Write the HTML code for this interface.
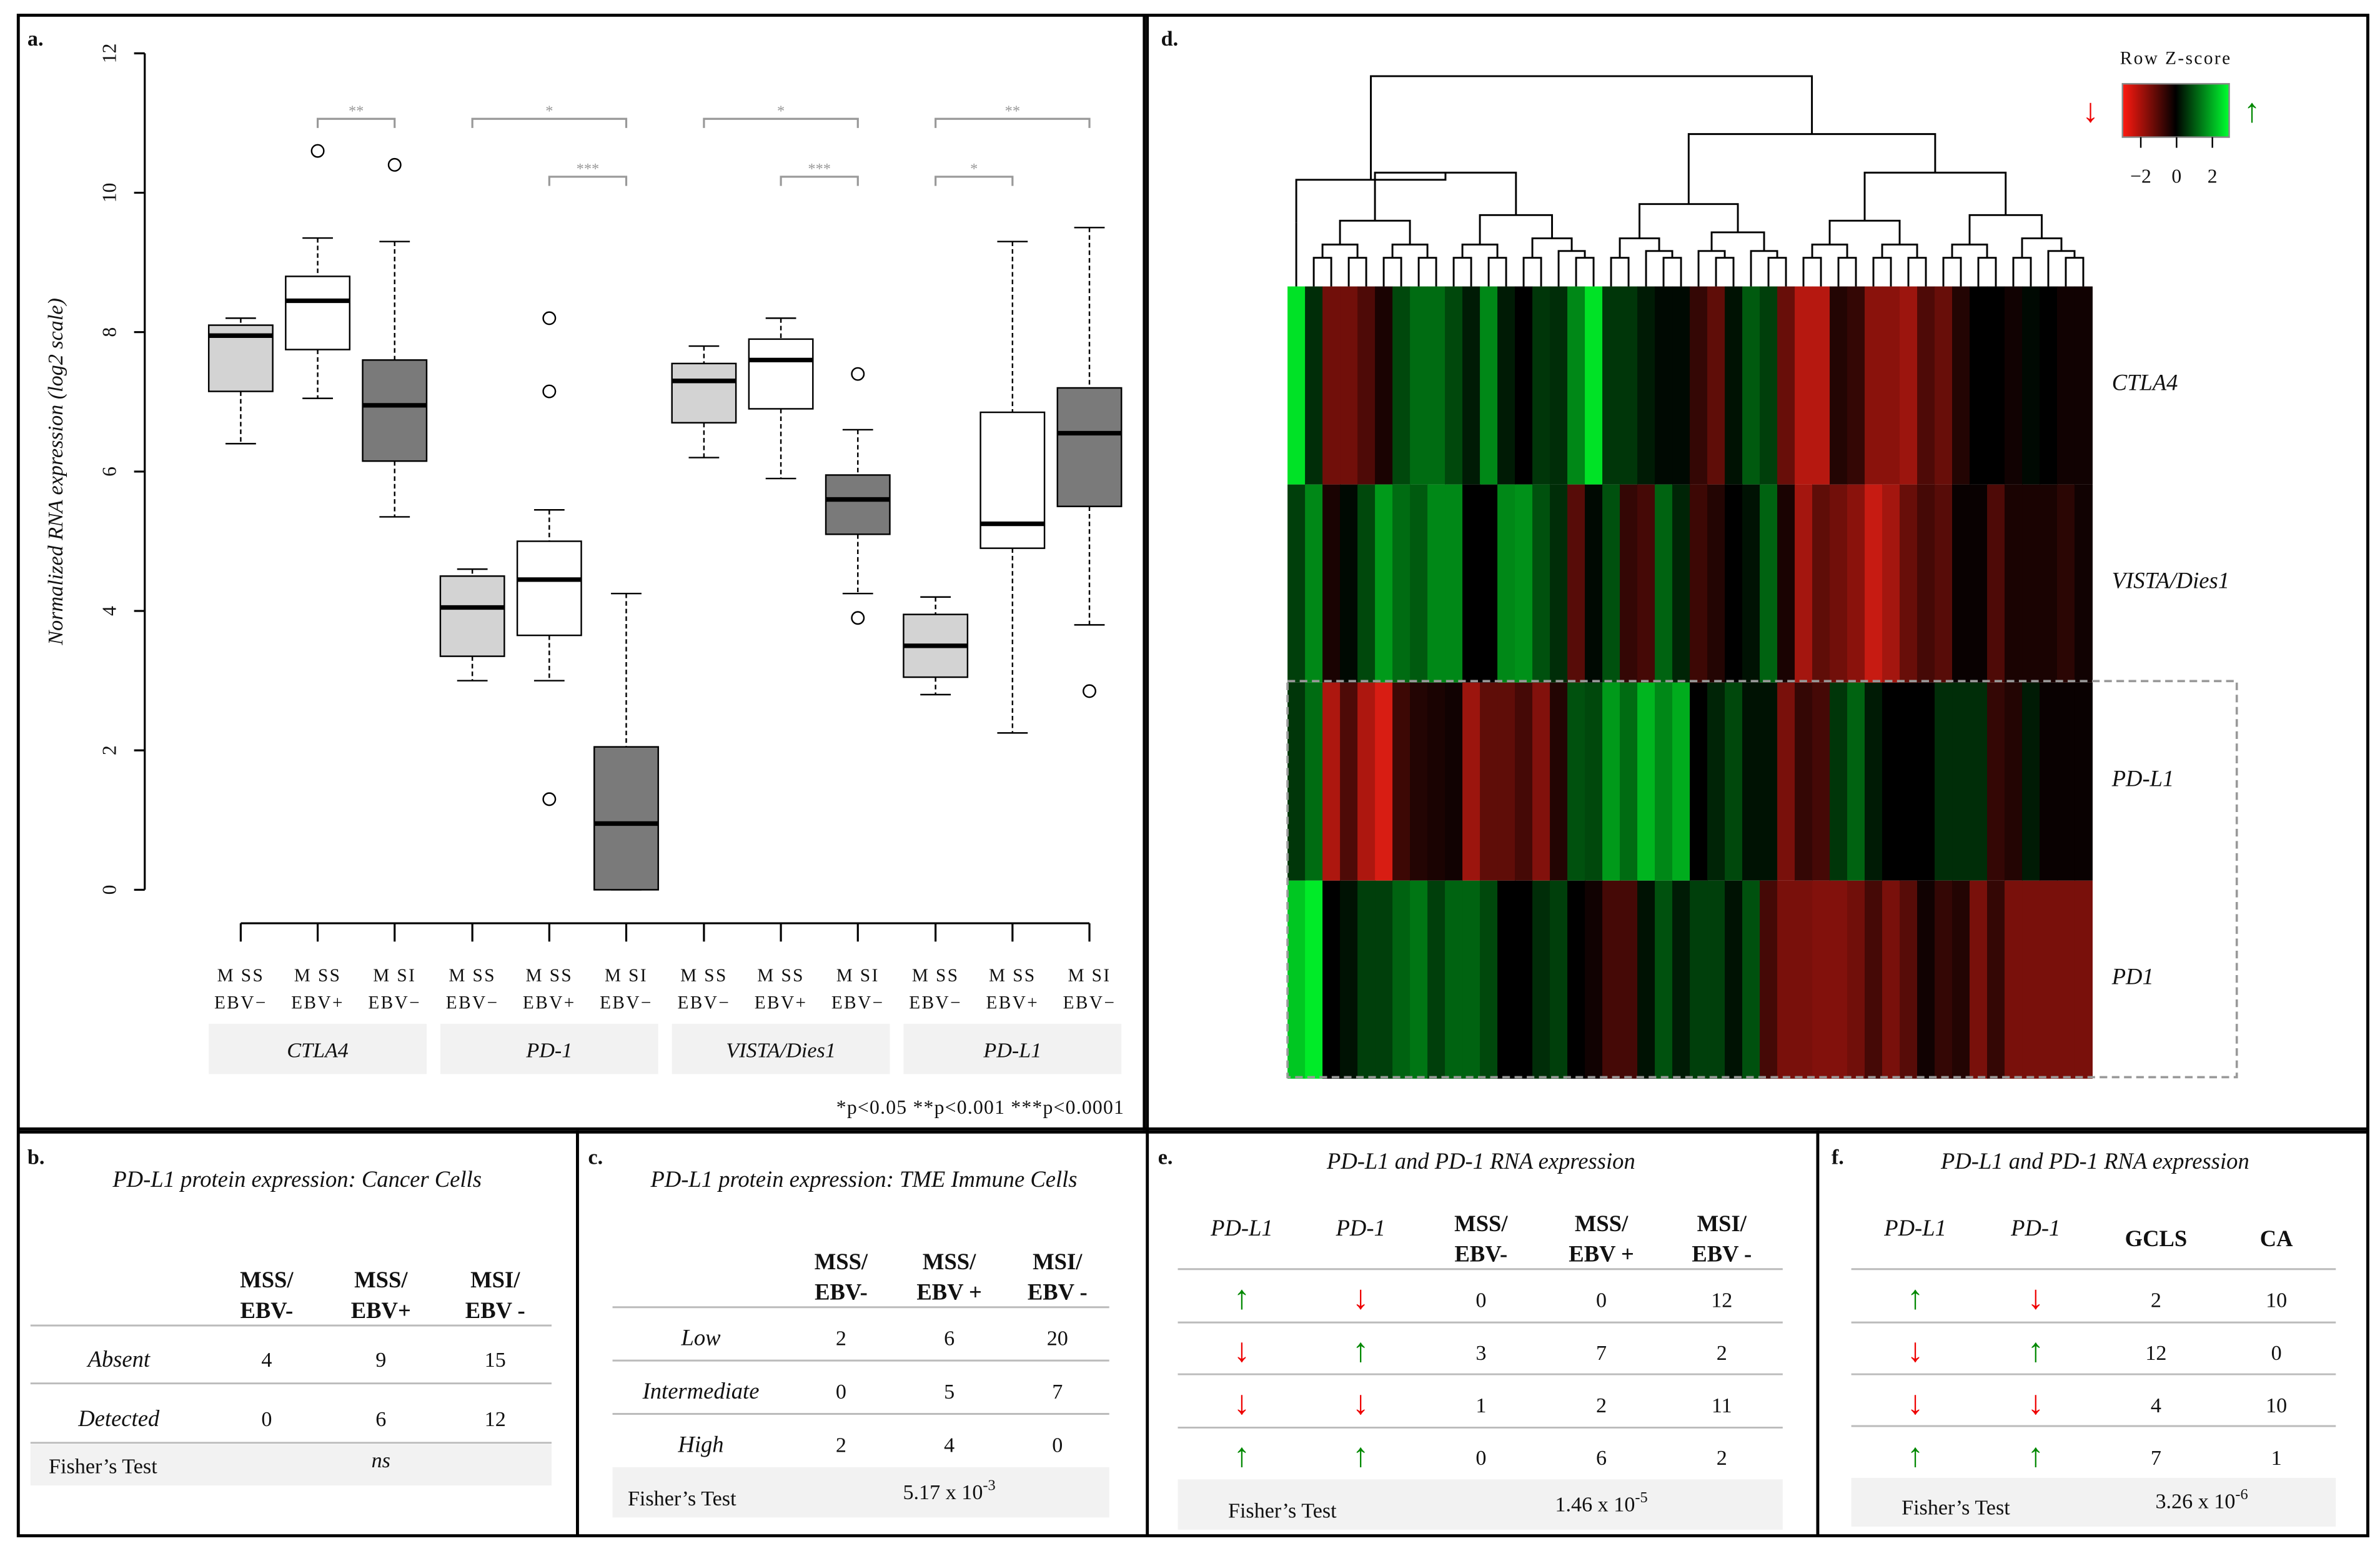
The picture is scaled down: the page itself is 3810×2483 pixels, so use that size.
<!DOCTYPE html>
<html><head><meta charset="utf-8">
<style>
html,body{margin:0;padding:0;background:#fff}
svg{display:block}
text{font-family:"Liberation Serif",serif;fill:#111}
.it{font-style:italic}
.b{font-weight:bold}
</style></head>
<body>
<svg id="root" width="3810" height="2483" viewBox="0 0 1562 1018" preserveAspectRatio="none" xmlns="http://www.w3.org/2000/svg">
<rect x="0" y="0" width="1562" height="1018" fill="#fff"/>
<g fill="none" stroke="#000" stroke-width="2">
<rect x="12" y="10" width="1542" height="998"/>
<line x1="751" y1="10" x2="751" y2="742"/>
<line x1="12" y1="741" x2="1554" y2="741"/>
<line x1="12" y1="743" x2="1554" y2="743"/>
<line x1="379" y1="742" x2="379" y2="1008"/>
<line x1="753" y1="10" x2="753" y2="1008"/>
<line x1="1193" y1="742" x2="1193" y2="1008"/>
</g>
<text x="18" y="30" class="b" font-size="14">a.</text>
<text x="762" y="30" class="b" font-size="14">d.</text>
<g id="boxplot"></g>
<g id="heat"></g>
<g id="tables"></g>
</svg>
<script>
const NS="http://www.w3.org/2000/svg";
// ---- boxplot data ----
const groups=["CTLA4","PD-1","VISTA/Dies1","PD-L1"];
const subLabels=[["M SS","EBV−"],["M SS","EBV+"],["M SI","EBV−"]];
const mins=[6.4,7.05,5.35, 3.0,3.0,0, 6.2,5.9,4.25, 2.8,2.25,3.8];
const q1s=[7.15,7.75,6.15, 3.35,3.65,0, 6.7,6.9,5.1, 3.05,4.9,5.5];
const meds=[7.95,8.45,6.95, 4.05,4.45,0.95, 7.3,7.6,5.6, 3.5,5.25,6.55];
const q3s=[8.1,8.8,7.6, 4.5,5.0,2.05, 7.55,7.9,5.95, 3.95,6.85,7.2];
const maxs=[8.2,9.35,9.3, 4.6,5.45,4.25, 7.8,8.2,6.6, 4.2,9.3,9.5];
const outliers=[[],[10.6],[10.4],[],[8.2,7.15,1.3],[],[],[],[7.4,3.9],[],[],[2.85]];
const yTicks=[0,2,4,6,8,10,12];
const sigLabels=[["**",1,2,0],["*",3,5,0],["***",4,5,1],["*",6,8,0],["***",7,8,1],["**",9,11,0],["*",9,10,1]];
const heatRows=["CTLA4","VISTA/Dies1","PD-L1","PD1"];
const zCTLA4=[2.5,0.5,-1.3,-1.3,-0.9,-0.3,0.8,1.2,1.2,0.8,0.3,1.5,0.3,0,0.6,0.5,1.5,2.5,0.6,0.6,0.3,0.1,0.1,-0.6,-1.1,0.2,1,0.7,-1.2,-2.1,-2.1,-0.4,-0.6,-1.6,-1.6,-1.8,-0.9,-1.2,-0.4,0,0,-0.2,0.1,0,-0.2,-0.2];
const zVISTA=[0.7,1.5,-0.3,0.1,0.8,1.7,1.2,1,1.5,1.5,0,0,1.5,1.6,0.9,0.5,-1,0.1,0.9,-0.6,-0.8,1.1,0.4,-0.7,-0.4,0,0.2,1.1,-0.3,-1.9,-1.1,-1.3,-1.6,-2.3,-1.9,-1.2,-0.8,-1,-0.1,-0.1,-0.9,-0.3,-0.3,-0.3,-0.5,-0.2];
const zPDL1=[0.6,1.2,-2,-0.9,-2,-2.5,-0.7,-0.4,-0.3,-0.2,-1.8,-1.1,-1.1,-0.8,-1.5,-0.4,0.9,0.8,1.7,1.2,2,1.5,1.9,0,0.4,0.8,0.2,0.2,-1.4,-0.6,-0.8,0.6,1.1,0.3,0,0,0,0.5,0.5,0.5,-0.6,-0.4,0.3,-0.1,-0.1,-0.1];
const zPD1=[2.2,2.7,0,0.2,0.7,0.7,1.1,1.3,0.7,1.1,1.1,0.8,0,0,0.5,0.7,0,-0.2,-0.8,-0.8,0.2,0.9,0.3,0.7,0.7,0.2,0.9,-0.8,-1.4,-1.4,-1.5,-1.5,-1.3,-0.8,-1.4,-1,-0.2,-0.6,-0.4,-1.4,-0.6,-1.4,-1.4,-1.4,-1.4,-1.4];

function el(tag,attrs,parent,txt){const e=document.createElementNS(NS,tag);for(const k in attrs)e.setAttribute(k,attrs[k]);if(txt!==undefined)e.textContent=txt;parent.appendChild(e);return e;}

// ---- boxplot ----
const bp=document.getElementById('boxplot');
const Y=v=>584-v*45.75;
const X=i=>158+Math.floor(i/3)*152+(i%3)*50.5;
const fills=["#d3d3d3","#ffffff","#7a7a7a"];
let ax=el('line',{x1:95,y1:Y(0),x2:95,y2:Y(12),stroke:'#000','stroke-width':1.3},bp);


yTicks.forEach(t=>{
  el('line',{x1:88,y1:Y(t),x2:95,y2:Y(t),stroke:'#000','stroke-width':1.3},bp);
  const tx=el('text',{x:0,y:0,'font-size':13,'text-anchor':'middle',transform:`translate(76,${Y(t)}) rotate(-90)`},bp,String(t));
  
  
});
const yt=el('text',{x:0,y:0,'font-size':14,'text-anchor':'middle',class:'it',transform:`translate(41,${Y(6)}) rotate(-90)`},bp,'Normalized RNA expression (log2 scale)');


el('line',{x1:X(0),y1:606,x2:X(11),y2:606,stroke:'#000','stroke-width':1.3},bp);
for(let i=0;i<12;i++){
  const x=X(i),w=21;
  const g=el('g',{},bp);
  
  
  el('line',{x1:x,y1:606,x2:x,y2:618,stroke:'#000','stroke-width':1.3},bp);
  el('line',{x1:x,y1:Y(maxs[i]),x2:x,y2:Y(q3s[i]),stroke:'#000','stroke-dasharray':'3,2'},g);
  el('line',{x1:x,y1:Y(q1s[i]),x2:x,y2:Y(mins[i]),stroke:'#000','stroke-dasharray':'3,2'},g);
  el('line',{x1:x-10,y1:Y(maxs[i]),x2:x+10,y2:Y(maxs[i]),stroke:'#000'},g);
  el('line',{x1:x-10,y1:Y(mins[i]),x2:x+10,y2:Y(mins[i]),stroke:'#000'},g);
  el('rect',{x:x-w,y:Y(q3s[i]),width:2*w,height:Y(q1s[i])-Y(q3s[i]),fill:fills[i%3],stroke:'#000'},g);
  el('line',{x1:x-w,y1:Y(meds[i]),x2:x+w,y2:Y(meds[i]),stroke:'#000','stroke-width':3},g);
  outliers[i].forEach(o=>el('circle',{cx:x,cy:Y(o),r:4,fill:'none',stroke:'#000'},g));
  el('text',{x:x,y:644,'font-size':12,'text-anchor':'middle','letter-spacing':'1'},bp,subLabels[i%3][0]);
  el('text',{x:x,y:662,'font-size':12,'text-anchor':'middle','letter-spacing':'1'},bp,subLabels[i%3][1]);
}
groups.forEach((gname,k)=>{
  const x0=X(k*3)-21,x1=X(k*3+2)+21;
  const r=el('rect',{x:x0,y:672,width:x1-x0,height:33,fill:'#f2f2f2'},bp);
  
  
  el('text',{x:(x0+x1)/2,y:694,'font-size':14,'text-anchor':'middle',class:'it'},bp,gname);
});
sigLabels.forEach(s=>{
  const y=s[3]?116:78,xa=X(s[1]),xb=X(s[2]);
  el('path',{d:`M${xa},${y+6}V${y}H${xb}V${y+6}`,fill:'none',stroke:'#999','stroke-width':1.3},bp);
  el('text',{x:(xa+xb)/2,y:y-2,'font-size':10,'text-anchor':'middle',fill:'#999',style:'fill:#999'},bp,s[0]);
});
el('text',{x:738,y:731,'font-size':13,'text-anchor':'end','letter-spacing':'0.5'},bp,'*p<0.05     **p<0.001     ***p<0.0001');

// ---- heatmap ----
const hm=document.getElementById('heat');
const zRows=[zCTLA4,zVISTA,zPDL1,zPD1];
const nCol=zCTLA4.length,hx0=845,hx1=1373,hy0=188,rowH=130,cw=(hx1-hx0)/nCol;
function zcol(z){
  const a=Math.min(1,Math.abs(z)/2.6);
  if(z>=0) return `rgb(0,${Math.round(235*a)},${Math.round(40*a)})`;
  return `rgb(${Math.round(225*a)},${Math.round(30*a)},${Math.round(20*a)})`;
}
zRows.forEach((row,r)=>{
  row.forEach((z,c)=>{
    const cell=el('rect',{x:hx0+c*cw,y:hy0+r*rowH,width:cw+0.4,height:rowH,fill:zcol(z)},hm);
    
    
  });
  const lb=el('text',{x:1386,y:hy0+r*rowH+68,'font-size':15,class:'it'},hm,heatRows[r]);
  
  
});
el('rect',{x:845,y:447,width:623,height:260,fill:'none',stroke:'#999','stroke-width':1.5,'stroke-dasharray':'5,3'},hm);
// dendrogram
const dg=el('g',{fill:'none',stroke:'#000','stroke-width':1.2},hm);


const lx=c=>hx0+(c+0.5)*cw;
function sub(a,b){
  if(a===b) return [lx(a),hy0];
  const m=Math.floor((a+b+1)/2)-1;
  const L=sub(a,m),R=sub(m+1,b);
  const h=hy0-8-6*Math.pow(b-a+1,0.85);
  el('path',{d:`M${L[0]},${L[1]}V${h}H${R[0]}V${R[1]}`},dg);
  return [(L[0]+R[0])/2,h];
}
function join(L,R,h){el('path',{d:`M${L[0]},${L[1]}V${h}H${R[0]}V${R[1]}`},dg);return [(L[0]+R[0])/2,h];}
const B=sub(1,17),A=join([lx(0),hy0-42],B,hy0-70);
el('path',{d:`M${lx(0)},${hy0}V${hy0-42}`},dg);
const D=sub(18,28),E=sub(29,45),C=join(D,E,88);
join(A,C,50);
// color key
const ck=el('g',{},hm);


const gd=el('linearGradient',{id:'kg'},el('defs',{},ck));
el('stop',{offset:'0','stop-color':'#ff1a10'},gd);el('stop',{offset:'0.5','stop-color':'#000'},gd);el('stop',{offset:'1','stop-color':'#00ff30'},gd);
el('rect',{x:1393,y:55,width:70,height:35,fill:'url(#kg)',stroke:'#888'},ck);
el('text',{x:1428,y:42,'font-size':12,'text-anchor':'middle','letter-spacing':'1'},ck,'Row  Z-score');
[-2,0,2].forEach((t,i)=>{const x=1405+i*23.5;el('line',{x1:x,y1:90,x2:x,y2:97,stroke:'#000'},ck);el('text',{x:x,y:120,'font-size':13,'text-anchor':'middle'},ck,t===-2?'−2':String(t));});
el('text',{x:1372,y:80,'font-size':22,'text-anchor':'middle',fill:'#e00',style:'fill:#e00'},ck,'↓');
el('text',{x:1478,y:80,'font-size':22,'text-anchor':'middle',fill:'#080',style:'fill:#080'},ck,'↑');

// ---- tables ----
const tb=document.getElementById('tables');
function T(x,y,s,opt){opt=opt||{};const t=el('text',{x:x,y:y,'font-size':opt.fs||14,'text-anchor':opt.a||'middle'},tb,s);if(opt.c)t.setAttribute('class',opt.c);if(opt.col){t.setAttribute('style','fill:'+opt.col);}return t;}
function HL(x0,x1,y){el('line',{x1:x0,y1:y,x2:x1,y2:y,stroke:'#bbb','stroke-width':1.2},tb);}
function fisher(x0,x1,y0,y1,tx,val,vx,vit){el('rect',{x:x0,y:y0,width:x1-x0,height:y1-y0,fill:'#f2f2f2'},tb);T(tx,y1-8,'Fisher\u2019s Test',{a:'start',fs:14});const v=T(vx,y1-12,'',{c:vit?'it':''});v.innerHTML=val;}
function arrow(x,y,up){T(x,y+1,up?'↑':'↓',{fs:22,col:up?'#080':'#e00'});}
// b
T(18,764,'b.',{a:'start',c:'b'});
T(195,779,'PD-L1 protein expression: Cancer Cells',{c:'it',fs:15});
[['MSS/','EBV-'],['MSS/','EBV+'],['MSI/','EBV -']].forEach((h,i)=>{T(175+i*75,845,h[0],{c:'b',fs:15});T(175+i*75,865,h[1],{c:'b',fs:15});});
HL(20,362,870);HL(20,362,908);HL(20,362,947);
T(78,897,'Absent',{c:'it',fs:15});[4,9,15].forEach((v,i)=>T(175+i*75,897,String(v)));
T(78,936,'Detected',{c:'it',fs:15});[0,6,12].forEach((v,i)=>T(175+i*75,936,String(v)));
fisher(20,362,948,975,32,'ns',250,true);
// c
T(386,764,'c.',{a:'start',c:'b'});
T(567,779,'PD-L1 protein expression: TME Immune Cells',{c:'it',fs:15});
[['MSS/','EBV-'],['MSS/','EBV +'],['MSI/','EBV -']].forEach((h,i)=>{T(552+i*71,833,h[0],{c:'b',fs:15});T(552+i*71,853,h[1],{c:'b',fs:15});});
HL(402,728,858);HL(402,728,893);HL(402,728,928);
[['Low',[2,6,20]],['Intermediate',[0,5,7]],['High',[2,4,0]]].forEach((r,k)=>{T(460,883+k*35,r[0],{c:'it',fs:15});r[1].forEach((v,i)=>T(552+i*71,883+k*35,String(v)));});
fisher(402,728,963,996,412,'5.17 x 10<tspan dy="-6" font-size="10">-3</tspan>',623,false);
// e
T(760,764,'e.',{a:'start',c:'b'});
T(972,767,'PD-L1 and PD-1 RNA expression',{c:'it',fs:15});
T(815,811,'PD-L1',{c:'it',fs:15});T(893,811,'PD-1',{c:'it',fs:15});
[['MSS/','EBV-'],['MSS/','EBV +'],['MSI/','EBV -']].forEach((h,i)=>{T(972+i*79,808,h[0],{c:'b',fs:15});T(972+i*79,828,h[1],{c:'b',fs:15});});
HL(773,1170,833);HL(773,1170,868);HL(773,1170,902);HL(773,1170,937);
const eRows=[[1,0,[0,0,12]],[0,1,[3,7,2]],[0,0,[1,2,11]],[1,1,[0,6,2]]];
eRows.forEach((r,k)=>{const y=858+k*34.5;arrow(815,y,r[0]);arrow(893,y,r[1]);r[2].forEach((v,i)=>T(972+i*79,y,String(v)));});
fisher(773,1170,971,1004,806,'1.46 x 10<tspan dy="-6" font-size="10">-5</tspan>',1051,false);
// f
T(1202,764,'f.',{a:'start',c:'b'});
T(1375,767,'PD-L1 and PD-1 RNA expression',{c:'it',fs:15});
T(1257,811,'PD-L1',{c:'it',fs:15});T(1336,811,'PD-1',{c:'it',fs:15});
T(1415,818,'GCLS',{c:'b',fs:15});T(1494,818,'CA',{c:'b',fs:15});
HL(1215,1533,833);HL(1215,1533,868);HL(1215,1533,902);HL(1215,1533,936);
const fRows=[[1,0,[2,10]],[0,1,[12,0]],[0,0,[4,10]],[1,1,[7,1]]];
fRows.forEach((r,k)=>{const y=858+k*34.5;arrow(1257,y,r[0]);arrow(1336,y,r[1]);r[2].forEach((v,i)=>T(1415+i*79,y,String(v)));});
fisher(1215,1533,970,1002,1248,'3.26 x 10<tspan dy="-6" font-size="10">-6</tspan>',1445,false);
</script>
</body></html>
